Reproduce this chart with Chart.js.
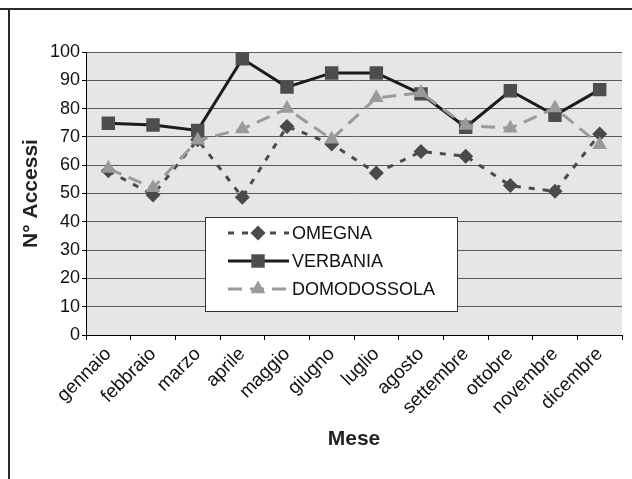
<!DOCTYPE html>
<html>
<head>
<meta charset="utf-8">
<script src="https://cdn.jsdelivr.net/npm/chart.js@4/dist/chart.umd.min.js"></script>
<style>
  html, body { margin: 0; padding: 0; background: #fff; }
  #wrap { width: 632px; height: 479px; }
</style>
</head>
<body>
<div id="wrap"><canvas id="grafico" width="632" height="479"></canvas></div>
<script>
// Dati
var mesi = ["gennaio", "febbraio", "marzo", "aprile", "maggio", "giugno",
            "luglio", "agosto", "settembre", "ottobre", "novembre", "dicembre"];
var omegna = [58, 49.5, 69, 48.7, 73.7, 67.5, 57.2, 64.8, 63.2, 52.8, 50.8, 71];
var verbania = [74.8, 74.2, 72.3, 97.6, 87.6, 92.6, 92.6, 85.2, 73.4, 86.3, 77.6, 86.7];
var domodossola = [58.8, 52, 68.8, 72.8, 80, 69.2, 83.8, 85.6, 74, 73.1, 80.2, 67.2];
var tickY = [0, 10, 20, 30, 40, 50, 60, 70, 80, 90, 100];

var fontFam = "'Liberation Sans', Arial, sans-serif";

// Sfondo grigio dell'area del grafico e cornice esterna
var sfondoPlugin = {
  id: 'sfondo',
  beforeDraw: function(chart) {
    var c = chart.ctx, a = chart.chartArea;
    c.save();
    c.fillStyle = '#e6e6e6';
    c.fillRect(a.left, a.top, a.right - a.left, a.bottom - a.top);
    c.strokeStyle = '#2a2a2a';
    c.lineWidth = 2;
    c.beginPath();
    c.moveTo(0, 9);
    c.lineTo(chart.width, 9);
    c.moveTo(9, 9);
    c.lineTo(9, chart.height);
    c.stroke();
    c.restore();
  }
};

function disegnaMarker(c, stile, x, y, r, colore) {
  c.fillStyle = colore;
  c.beginPath();
  if (stile === 'rectRot') {
    c.moveTo(x, y - r); c.lineTo(x + r, y); c.lineTo(x, y + r); c.lineTo(x - r, y);
  } else if (stile === 'rect') {
    var s = r * Math.SQRT1_2;
    c.rect(x - s, y - s, 2 * s, 2 * s);
  } else {
    c.moveTo(x, y - r);
    c.lineTo(x + r * 0.866, y + r * 0.5);
    c.lineTo(x - r * 0.866, y + r * 0.5);
  }
  c.closePath();
  c.fill();
}

// Legenda dentro l'area del grafico
var legendaPlugin = {
  id: 'legendaBox',
  afterDraw: function(chart) {
    var c = chart.ctx;
    var bx = 205, by = 217, bw = 252, bh = 94;
    c.save();
    c.fillStyle = '#fff';
    c.fillRect(bx, by, bw, bh);
    c.strokeStyle = '#333';
    c.lineWidth = 1;
    c.strokeRect(bx + 0.5, by + 0.5, bw, bh);
    chart.data.datasets.forEach(function(ds, i) {
      var y = 233 + i * 28;
      c.strokeStyle = ds.borderColor;
      c.lineWidth = ds.borderWidth;
      c.setLineDash(ds.borderDash || []);
      c.beginPath();
      c.moveTo(228, y);
      c.lineTo(289, y);
      c.stroke();
      c.setLineDash([]);
      disegnaMarker(c, ds.pointStyle, 258, y, ds.pointRadius, ds.pointBackgroundColor);
      c.fillStyle = '#111';
      c.font = '18px ' + fontFam;
      c.textBaseline = 'middle';
      c.textAlign = 'left';
      c.fillText(ds.label, 292, y + 1);
    });
    c.restore();
  }
};

var ctx = document.getElementById('grafico');

var grafico = new Chart(ctx, {
  type: 'line',
  data: {
    labels: mesi,
    datasets: [{
      label: 'OMEGNA',
      data: omegna,
      borderColor: '#4a4a4a',
      borderWidth: 3,
      borderDash: [6, 8],
      pointStyle: 'rectRot',
      pointRadius: 7.5,
      pointBackgroundColor: '#4a4a4a',
      pointBorderWidth: 0,
      order: 2
    }, {
      label: 'VERBANIA',
      data: verbania,
      borderColor: '#1c1c1c',
      borderWidth: 3,
      pointStyle: 'rect',
      pointRadius: 9.5,
      pointBackgroundColor: '#4d4d4d',
      pointBorderWidth: 0,
      order: 1
    }, {
      label: 'DOMODOSSOLA',
      data: domodossola,
      borderColor: '#9a9a9a',
      borderWidth: 3,
      borderDash: [14, 8],
      pointStyle: 'triangle',
      pointRadius: 8.5,
      pointBackgroundColor: '#9a9a9a',
      pointBorderWidth: 0,
      order: 0
    }]
  },
  options: {
    responsive: false,
    animation: false,
    layout: { padding: { top: 52, right: 10, left: 0, bottom: 0 } },
    elements: { line: { tension: 0 } },
    plugins: {
      legend: { display: false },
      tooltip: { enabled: false }
    },
    scales: {
      x: {
        offset: true,
        afterFit: function(scale) { scale.height = 144; },
        grid: {
          offset: true,
          drawOnChartArea: false,
          tickLength: 5,
          tickColor: '#000'
        },
        border: { color: '#000', width: 1 },
        ticks: {
          color: '#111',
          font: { family: fontFam, size: 19 },
          maxRotation: 45,
          minRotation: 45,
          padding: 3,
          autoSkip: false
        },
        title: {
          display: true,
          text: 'Mese',
          color: '#222',
          font: { family: fontFam, size: 21, weight: 'bold' },
          padding: { top: 0, bottom: 27 }
        }
      },
      y: {
        min: 0,
        max: 100,
        afterFit: function(scale) { scale.width = 86; },
        afterBuildTicks: function(scale) {
          scale.ticks = tickY.map(function(v) { return { value: v }; });
        },
        grid: {
          color: '#5a5a5a',
          lineWidth: 1,
          tickLength: 4,
          tickColor: '#000'
        },
        border: { color: '#000', width: 1 },
        ticks: {
          color: '#111',
          font: { family: fontFam, size: 18 },
          padding: 2
        },
        title: {
          display: true,
          text: 'N° Accessi',
          color: '#222',
          font: { family: fontFam, size: 21, weight: 'bold' },
          padding: { top: 19, bottom: 0 }
        }
      }
    }
  },
  plugins: [sfondoPlugin, legendaPlugin]
});
</script>
</body>
</html>
